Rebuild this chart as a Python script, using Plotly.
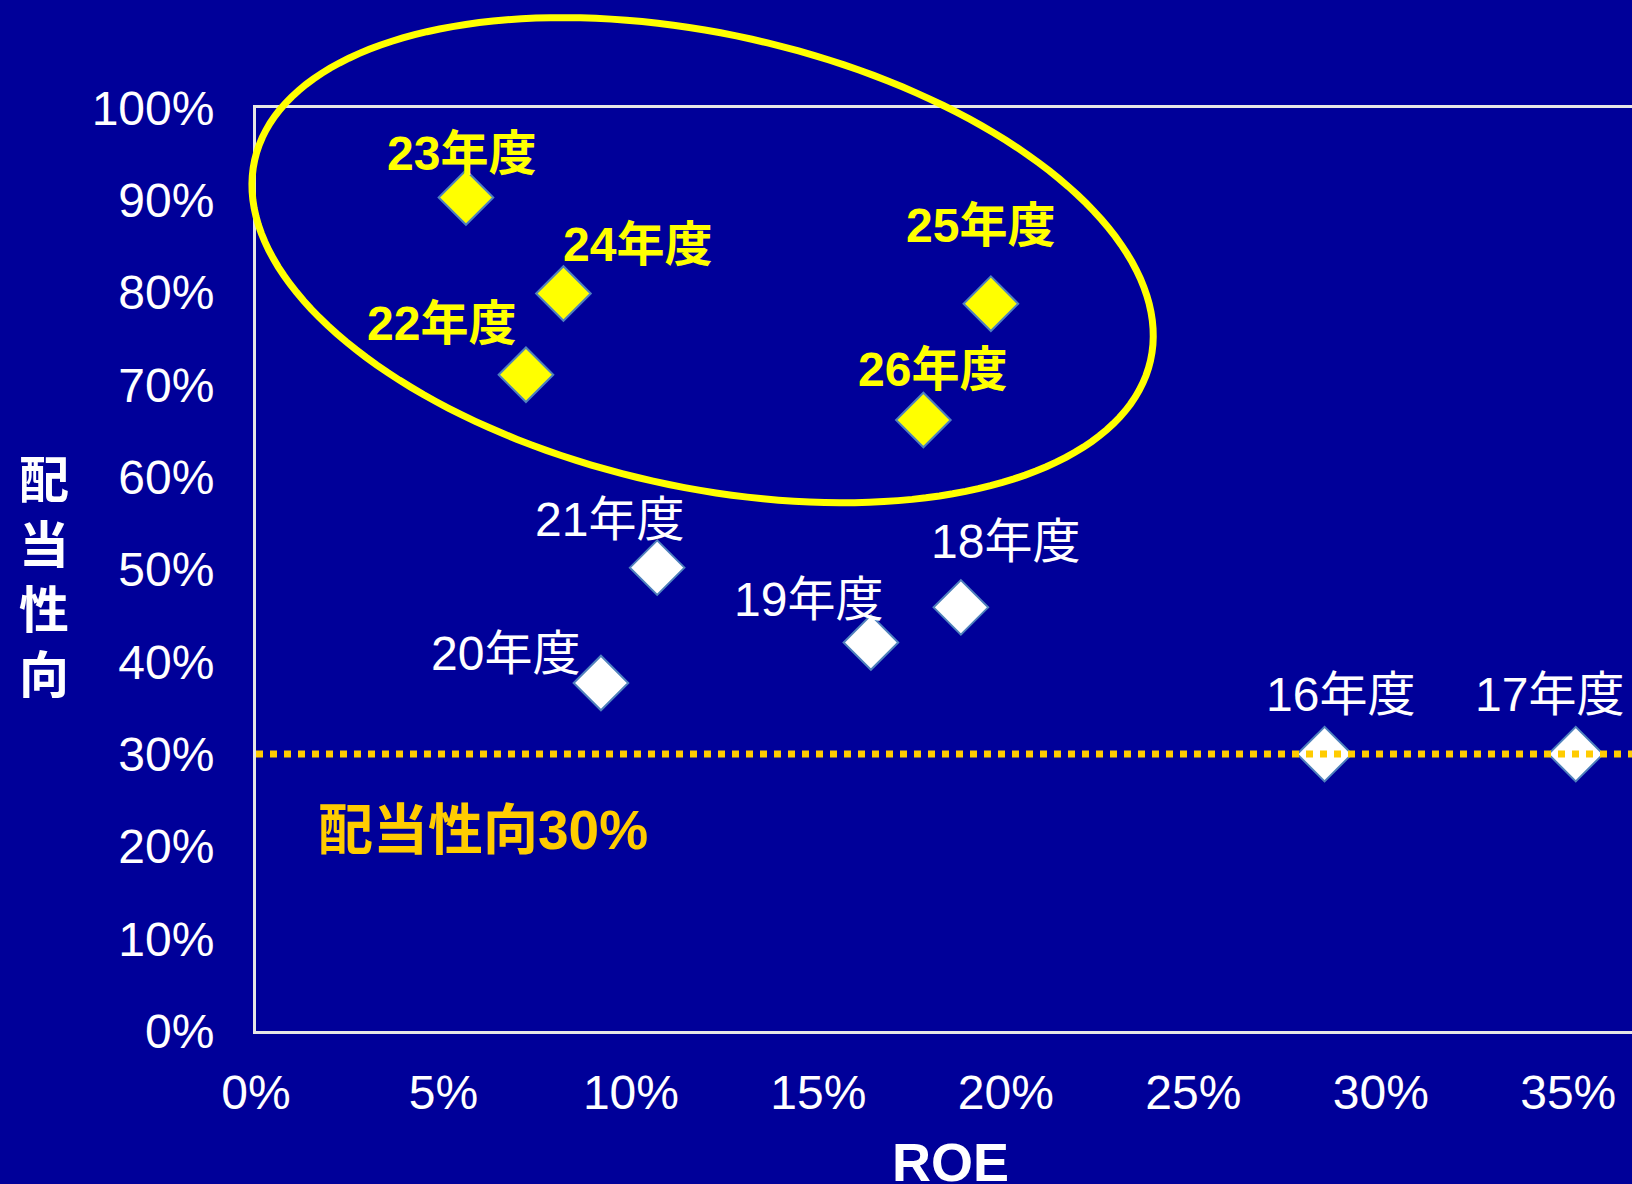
import math
import plotly.graph_objects as go

# ---- data ----
years = ["16年度", "17年度", "18年度", "19年度", "20年度", "21年度",
         "22年度", "23年度", "24年度", "25年度", "26年度"]
roe = [28.5, 35.2, 18.8, 16.4, 9.2, 10.7, 7.2, 5.6, 8.2, 19.6, 17.8]
payout = [30.0, 30.0, 45.9, 42.1, 37.7, 50.2, 71.1, 90.3, 79.9, 78.8, 66.2]
highlight = [False, False, False, False, False, False, True, True, True, True, True]
threshold = 30
x_ticks = [0, 5, 10, 15, 20, 25, 30, 35]
y_ticks = [0, 10, 20, 30, 40, 50, 60, 70, 80, 90, 100]

# label offsets (pixels, style only)
label_dx = [16, -26, 45, -62, -95, -48, -84, -4, 74, -10, 9]
label_dy = [60, 60, 66, 43, 30, 48, 51, 44, 49, 78, 50]

# ---- layout geometry ----
W, H = 1632, 1184
ML, MR, MT, MB = 256, 0, 108, 153
PW, PH = W - ML - MR, H - MT - MB
XMAX = 36.7

BG = "#000099"
YEL = "#FFFF00"
GOLD = "#FFCC00"
FONT = "Liberation Sans, Arial, Noto Sans CJK JP, sans-serif"

fig = go.Figure()

for flag, fill in [(False, "white"), (True, YEL)]:
    xs = [r for r, h in zip(roe, highlight) if h == flag]
    ys = [p for p, h in zip(payout, highlight) if h == flag]
    fig.add_trace(go.Scatter(
        x=xs, y=ys, mode="markers",
        marker=dict(symbol="diamond", size=42, color=fill,
                    line=dict(color="#4F81BD", width=2)),
        showlegend=False, hoverinfo="skip", cliponaxis=False))

# data labels
for name, x, y, h, dx, dy in zip(years, roe, payout, highlight, label_dx, label_dy):
    if h:
        txt = "<b>" + name + "</b>"
        col = YEL
    else:
        txt = name
        col = "white"
    fig.add_annotation(x=x, y=y, xref="x", yref="y", text=txt, showarrow=False,
                       xshift=dx, yshift=dy,
                       font=dict(family=FONT, size=48, color=col))

# threshold dotted line
fig.add_shape(type="line", xref="x", yref="y", x0=0, x1=XMAX, y0=threshold, y1=threshold,
              line=dict(color=GOLD, width=7, dash="dot"), layer="above")

fig.add_annotation(x=1.6, y=21.8, xref="x", yref="y", xanchor="left",
                   text="<b>配当性向30%</b>", showarrow=False,
                   font=dict(family=FONT, size=55, color=GOLD))

# highlight ellipse (pixel geometry -> paper coords)
cx, cy, a, b, th = 702.6, 260.2, 459.0, 226.4, math.radians(12.6)
pts = []
for i in range(181):
    t = 2 * math.pi * i / 180
    px = cx + a * math.cos(t) * math.cos(th) - b * math.sin(t) * math.sin(th)
    py = cy + a * math.cos(t) * math.sin(th) + b * math.sin(t) * math.cos(th)
    pts.append(((px - ML) / PW, (H - MB - py) / PH))
path = "M " + " L ".join(f"{u:.5f},{v:.5f}" for u, v in pts) + " Z"
fig.add_shape(type="path", path=path, xref="paper", yref="paper",
              line=dict(color=YEL, width=7), layer="above")

# axis titles
fig.add_annotation(x=(44 - ML) / PW, y=(H - MB - 578) / PH, xref="paper", yref="paper",
                   xanchor="center", yanchor="middle",
                   text="<b>配<br>当<br>性<br>向</b>", showarrow=False,
                   font=dict(family=FONT, size=50, color="white"))
fig.add_annotation(x=(950 - ML) / PW, y=(H - MB - 1162) / PH, xref="paper", yref="paper",
                   xanchor="center", yanchor="middle",
                   text="<b>ROE</b>", showarrow=False,
                   font=dict(family=FONT, size=54, color="white"))

fig.update_layout(
    width=W, height=H,
    margin=dict(l=ML, r=MR, t=MT, b=MB, pad=0),
    paper_bgcolor=BG, plot_bgcolor=BG,
    font=dict(family=FONT, color="white"),
    xaxis=dict(range=[0, XMAX], tickvals=x_ticks,
               ticktext=[f"{v}%" for v in x_ticks],
               showgrid=False, zeroline=False, showline=True, mirror=True,
               linecolor="#E6E6E6", linewidth=3, ticks="",
               tickfont=dict(family=FONT, size=48, color="white"),
               ticklabelstandoff=17),
    yaxis=dict(range=[0, 100], tickvals=y_ticks,
               ticktext=[f"{v}%" for v in y_ticks],
               showgrid=False, zeroline=False, showline=True, mirror=False,
               linecolor="#E6E6E6", linewidth=3, ticks="",
               tickfont=dict(family=FONT, size=48, color="white"),
               ticklabelstandoff=29),
)

fig.write_html("out.html", config={"displayModeBar": False},
               post_script="document.body.style.margin='0';document.body.style.background='#000099';")
